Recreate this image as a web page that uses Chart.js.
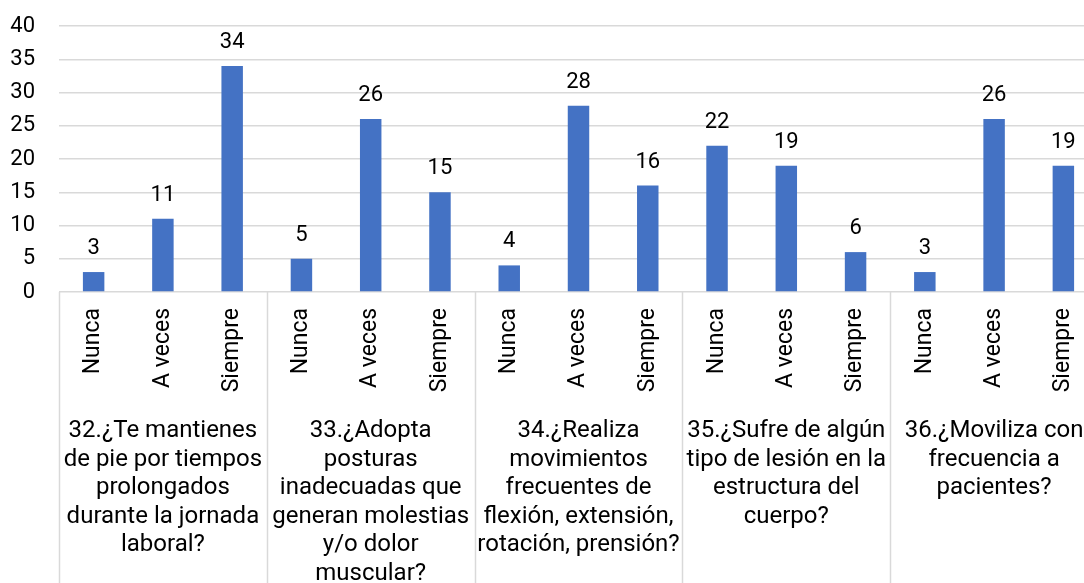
<!DOCTYPE html>
<html>
<head>
<meta charset="utf-8">
<script src="https://cdn.jsdelivr.net/npm/chart.js@4"></script>
<style>
html, body { margin: 0; padding: 0; overflow: hidden; background: #fff; }
</style>
</head>
<body>
<canvas id="preguntas-chart" width="1100" height="583"></canvas>
<script>
// answers repeated under each question
const answers = ['Nunca', 'A veces', 'Siempre'];

// question text, one entry per wrapped line
const questions = [
    ['32.¿Te mantienes', 'de pie por tiempos', 'prolongados', 'durante la jornada', 'laboral?'],
    ['33.¿Adopta', 'posturas', 'inadecuadas que', 'generan molestias', 'y/o dolor', 'muscular?'],
    ['34.¿Realiza', 'movimientos', 'frecuentes de', 'flexión, extensión,', 'rotación, prensión?'],
    ['35.¿Sufre de algún', 'tipo de lesión en la', 'estructura del', 'cuerpo?'],
    ['36.¿Moviliza con', 'frecuencia a', 'pacientes?'],
];

const counts = [3, 11, 34, 5, 26, 15, 4, 28, 16, 22, 19, 6, 3, 26, 19];

const yTicks = { min: 0, max: 40, step: 5 };

const labels = questions.flatMap(() => answers);

// separators + question labels under the axis
const groupPlugin = {
    id: 'groupLabels',
    afterDraw(chart) {
        const ctx = chart.ctx;
        const x = chart.scales.x;
        const area = chart.chartArea;
        const per = answers.length;
        const catW = (x.getPixelForValue(1) - x.getPixelForValue(0));
        const left = x.getPixelForValue(0) - catW / 2;
        ctx.save();
        ctx.strokeStyle = '#d9d9d9';
        ctx.lineWidth = 1.5;
        for (let g = 0; g <= questions.length; g++) {
            const px = Math.round(left + g * per * catW) + 0.5;
            ctx.beginPath();
            ctx.moveTo(px, area.bottom);
            ctx.lineTo(px, chart.height);
            ctx.stroke();
        }
        ctx.fillStyle = '#000';
        ctx.font = '24px Roboto';
        ctx.textAlign = 'center';
        ctx.textBaseline = 'alphabetic';
        questions.forEach((lines, g) => {
            const cx = left + (g * per + per / 2) * catW;
            lines.forEach((line, i) => {
                ctx.fillText(line, cx, 437 + i * 28.5);
            });
        });
        ctx.restore();
    },
    afterDatasetsDraw(chart) {
        const ctx = chart.ctx;
        const meta = chart.getDatasetMeta(0);
        ctx.save();
        ctx.fillStyle = '#000';
        ctx.font = '22px Roboto';
        ctx.textAlign = 'center';
        ctx.textBaseline = 'alphabetic';
        meta.data.forEach((bar, i) => {
            ctx.fillText(String(counts[i]), bar.x, bar.y - 18);
        });
        ctx.restore();
    }
};

const ctxEl = document.getElementById('preguntas-chart');

new Chart(ctxEl, {
    type: 'bar',
    data: {
        labels: labels,
        datasets: [
            {
                data: counts,
                backgroundColor: '#4472c4',
                borderWidth: 0,
                barPercentage: 1,
                categoryPercentage: 0.31,
            }
        ]
    },
    options: {
        responsive: false,
        animation: false,
        devicePixelRatio: 1,
        layout: { padding: { top: 26, right: 2, bottom: 0, left: 0 } },
        plugins: {
            legend: { display: false },
            tooltip: { enabled: false }
        },
        scales: {
            x: {
                grid: { display: false, drawTicks: false },
                border: { display: false },
                ticks: {
                    autoSkip: false,
                    maxRotation: 90,
                    minRotation: 90,
                    padding: 16,
                    color: '#000',
                    font: { family: 'Roboto', size: 23 }
                },
                afterFit(scale) {
                    scale.height = 291;
                    scale.paddingLeft = 0;
                    scale.paddingRight = 0;
                }
            },
            y: {
                min: yTicks.min,
                max: yTicks.max,
                grid: { color: '#d9d9d9', lineWidth: 1.5, drawTicks: false },
                border: { display: false },
                ticks: {
                    stepSize: yTicks.step,
                    padding: 24,
                    color: '#000',
                    font: { family: 'Roboto', size: 22 }
                },
                afterFit(scale) {
                    scale.width = 59;
                    scale.paddingTop = 0;
                    scale.paddingBottom = 0;
                }
            }
        }
    },
    plugins: [groupPlugin]
});
</script>
</body>
</html>
